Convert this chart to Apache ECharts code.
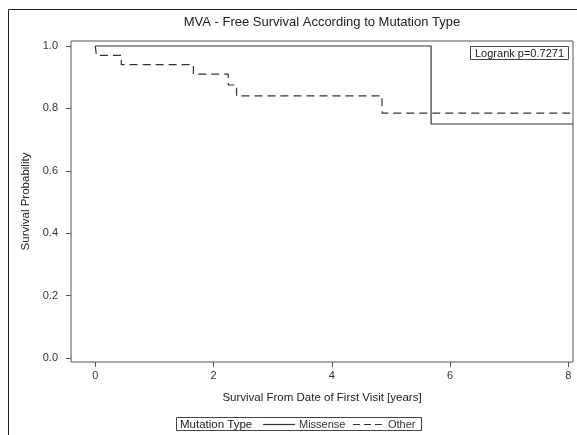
<!DOCTYPE html>
<html><head><meta charset="utf-8">
<script src="https://cdn.jsdelivr.net/npm/echarts@6/dist/echarts.min.js"></script>
<style>html,body{margin:0;padding:0;background:#fff}#c{width:577px;height:435px}</style>
</head><body><div id="c"></div>
<script>
const titleText = "MVA - Free Survival According to Mutation Type";
const xName = "Survival From Date of First Visit [years]";
const yName = "Survival Probability";
const xTicks = [0, 2, 4, 6, 8];
const yTicks = [0, 0.2, 0.4, 0.6, 0.8, 1.0];
const missenseTimes = [0, 5.68, 8.08];
const missenseSurv  = [1.0, 0.75, 0.75];
const otherTimes = [0, 0.02, 0.44, 1.66, 2.25, 2.39, 4.85, 8.08];
const otherSurv  = [1.0, 0.97, 0.94, 0.91, 0.875, 0.84, 0.785, 0.785];
const pText = "Logrank p=0.7271";
const legendTitle = "Mutation Type";
const groupNames = ["Missense", "Other"];

const FONT = "'Liberation Sans', Arial, sans-serif";
const LINE = '#333';
const chart = echarts.init(document.getElementById('c'), null, {renderer: 'canvas'});
const zip = (a, b) => a.map((v, i) => [v, b[i]]);
const G = {left: 71, top: 41, right: 573, bottom: 362};
const LY = 424.5;
chart.setOption({
  animation: false,
  backgroundColor: '#fff',
  grid: {left: G.left, top: G.top, width: G.right - G.left, height: G.bottom - G.top,
         show: true, borderColor: '#555', borderWidth: 1, backgroundColor: 'transparent'},
  xAxis: {
    type: 'value', min: -0.41, max: 8.08,
    axisLine: {show: false, onZero: false},
    axisTick: {show: true, inside: false, length: 5, lineStyle: {color: '#555'}, customValues: xTicks},
    axisLabel: {customValues: xTicks, color: '#333', fontSize: 11, fontFamily: FONT, margin: 8},
    splitLine: {show: false},
    name: xName, nameLocation: 'middle', nameGap: 30,
    nameTextStyle: {color: '#222', fontSize: 11.5, fontFamily: FONT}
  },
  yAxis: {
    type: 'value', min: -0.013, max: 1.016,
    axisLine: {show: false, onZero: false},
    axisTick: {show: true, inside: false, length: 5, lineStyle: {color: '#555'}, customValues: yTicks},
    axisLabel: {customValues: yTicks, color: '#333', fontSize: 11, fontFamily: FONT, margin: 13,
                formatter: v => v.toFixed(1)},
    splitLine: {show: false},
    name: yName, nameLocation: 'middle', nameGap: 39, nameRotate: 90,
    nameTextStyle: {color: '#222', fontSize: 11.5, fontFamily: FONT}
  },
  series: [
    {name: groupNames[0], type: 'line', step: 'end', data: zip(missenseTimes, missenseSurv),
     showSymbol: false, symbol: 'none', lineStyle: {color: LINE, width: 1.2}},
    {name: groupNames[1], type: 'line', step: 'end', data: zip(otherTimes, otherSurv),
     showSymbol: false, symbol: 'none', lineStyle: {color: LINE, width: 1.2, type: [8, 5]}}
  ],
  graphic: [
    {type: 'polyline', shape: {points: [[8.5, 435], [8.5, 9.5], [577, 9.5]]},
     style: {stroke: '#222', lineWidth: 1, fill: null}},
    {type: 'text', x: 322, y: 22, style: {text: titleText, fill: '#222', font: '13px ' + FONT,
     textAlign: 'center', textVerticalAlign: 'middle'}},
    {type: 'rect', shape: {x: 470.5, y: 46.5, width: 98, height: 13},
     style: {stroke: '#444', lineWidth: 1, fill: '#fff'}},
    {type: 'text', x: 519.5, y: 53.5, style: {text: pText, fill: '#222', font: '11px ' + FONT,
     textAlign: 'center', textVerticalAlign: 'middle'}},
    {type: 'rect', shape: {x: 176.5, y: 417.5, width: 245, height: 13},
     style: {stroke: '#444', lineWidth: 1, fill: 'none'}},
    {type: 'text', x: 180, y: LY, style: {text: legendTitle, fill: '#222', font: '11.5px ' + FONT,
     textAlign: 'left', textVerticalAlign: 'middle'}},
    {type: 'line', shape: {x1: 263, y1: LY, x2: 295, y2: LY}, style: {stroke: LINE, lineWidth: 1.2}},
    {type: 'text', x: 299, y: LY, style: {text: groupNames[0], fill: '#333', font: '11px ' + FONT,
     textAlign: 'left', textVerticalAlign: 'middle'}},
    {type: 'line', shape: {x1: 353, y1: LY, x2: 382, y2: LY}, style: {stroke: LINE, lineWidth: 1.2, lineDash: [7, 4]}},
    {type: 'text', x: 388, y: LY, style: {text: groupNames[1], fill: '#333', font: '11px ' + FONT,
     textAlign: 'left', textVerticalAlign: 'middle'}}
  ]
});
</script></body></html>
